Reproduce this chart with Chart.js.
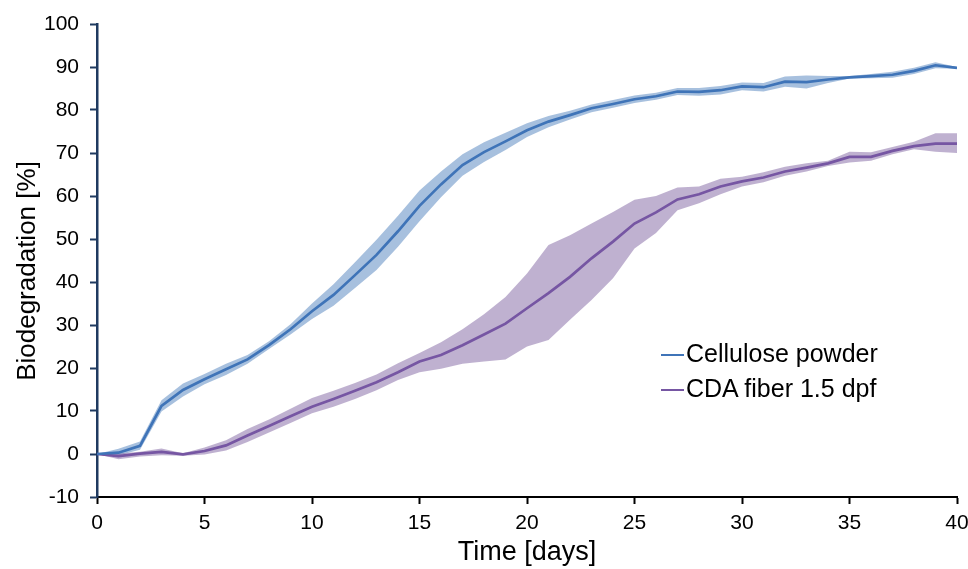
<!DOCTYPE html>
<html>
<head>
<meta charset="utf-8">
<script src="https://cdn.jsdelivr.net/npm/chart.js@4.4.1/dist/chart.umd.min.js"></script>
<style>
  body { margin: 0; background: #fff; }
  #boite { position: relative; width: 968px; height: 569px; }
  #legende { position: absolute; left: 661px; top: 336px; font-family: "Liberation Sans", Arial, sans-serif; font-size: 25px; color: #000; }
  .ligne { height: 35px; line-height: 35px; white-space: nowrap; }
  .trait { display: inline-block; width: 23px; height: 2px; vertical-align: middle; margin-right: 2px; }
</style>
</head>
<body>
<div id="boite">
  <canvas id="monGraphe" width="968" height="569"></canvas>
  <div id="legende"></div>
</div>
<script>
var jours = [0,1,2,3,4,5,6,7,8,9,10,11,12,13,14,15,16,17,18,19,20,21,22,23,24,25,26,27,28,29,30,31,32,33,34,35,36,37,38,39,40];

var cellulose = [0,0.3,1.9,11.2,14.9,17.4,19.7,22.0,25.3,29.0,33.2,37.0,41.6,46.3,51.8,57.7,62.7,67.2,70.2,72.7,75.3,77.3,78.8,80.4,81.4,82.5,83.2,84.3,84.2,84.6,85.5,85.3,86.6,86.5,87.1,87.6,87.9,88.2,89.1,90.4,89.8];
var celluloseHaut = [0,1.2,2.9,12.5,16.4,18.6,21.0,23.0,26.2,30.2,35.0,39.5,44.6,49.8,55.4,61.3,65.7,69.7,72.5,74.7,76.9,78.6,79.8,81.3,82.3,83.4,84.0,85.1,85.1,85.6,86.4,86.3,87.8,88.0,87.9,87.9,88.4,88.9,89.8,91.1,90.0];
var celluloseBas = [0,-0.3,1.0,9.9,13.4,16.2,18.4,21.0,24.4,27.8,31.4,34.5,38.6,42.8,48.2,54.1,59.7,64.7,67.9,70.7,73.7,76.0,77.8,79.5,80.5,81.6,82.4,83.5,83.3,83.6,84.6,84.3,85.4,85.0,86.3,87.3,87.4,87.5,88.4,89.7,89.6];

var cda = [0,-0.5,0.1,0.5,-0.1,0.7,2.0,4.3,6.5,8.8,11.0,12.8,14.7,16.7,19.0,21.5,23.0,25.3,27.8,30.3,33.9,37.4,41.2,45.5,49.4,53.6,56.2,59.2,60.4,62.2,63.4,64.3,65.7,66.6,67.6,69.1,69.1,70.5,71.6,72.2,72.2];
var cdaHaut = [0,0.1,0.5,1.3,0.2,1.5,3.2,5.8,8.0,10.5,13.0,14.7,16.5,18.5,21.1,23.5,26.0,29.0,32.5,36.5,42.0,48.6,50.9,53.6,56.3,59.1,60.0,62.0,62.2,64.0,64.5,65.5,66.8,67.6,68.2,70.3,70.2,71.4,72.6,74.6,74.6];
var cdaBas = [0,-1.2,-0.6,-0.3,-0.4,-0.1,0.8,2.8,5.0,7.2,9.5,11.0,12.8,14.8,17.2,19.0,19.8,21.0,21.5,22.0,25.0,26.5,31.2,35.8,40.9,47.8,51.4,56.7,58.3,60.4,62.2,63.2,64.7,65.7,67.0,67.8,68.2,69.7,70.9,70.3,70.0];

var noms = ["Cellulose powder", "CDA fiber 1.5 dpf"];
var couleurs = ["#3f74b8", "#7656a3"];
var couleursBande = ["rgba(79,129,189,0.5)", "rgba(128,100,162,0.5)"];

var police = "'Liberation Sans', Arial, sans-serif";

function points(valeurs){
  var res = [];
  for (var i = 0; i < jours.length; i++) res.push({x: jours[i], y: valeurs[i]});
  return res;
}

function courbe(label, valeurs, couleur, ordre){
  return {label: label, data: points(valeurs), borderColor: couleur, borderWidth: 2.7,
    pointRadius: 0, fill: false, tension: 0, order: ordre};
}

function bande(valeurs, couleur, remplir, ordre){
  return {label: "", data: points(valeurs), borderWidth: 0, borderColor: "rgba(0,0,0,0)",
    backgroundColor: couleur, pointRadius: 0, fill: remplir, tension: 0, order: ordre};
}

// titre de l'axe y, un peu plus bas que le centre de l'axe comme sur l'original
var titreY = {
  id: "titreY",
  afterDraw: function(c){
    var g = c.ctx;
    g.save();
    g.translate(28, 271);
    g.rotate(-Math.PI / 2);
    g.font = "26px " + police;
    g.fillStyle = "#000";
    g.textAlign = "center";
    g.textBaseline = "middle";
    g.fillText("Biodegradation [%]", 0, 0);
    g.restore();
  }
};

var ctx = document.getElementById("monGraphe");
var chart = new Chart(ctx, {
  type: "line",
  data: {
    datasets: [
      courbe(noms[0], cellulose, couleurs[0], 1),
      courbe(noms[1], cda, couleurs[1], 2),
      bande(celluloseHaut, couleursBande[0], "+1", 4),
      bande(celluloseBas, couleursBande[0], false, 5),
      bande(cdaHaut, couleursBande[1], "+1", 3),
      bande(cdaBas, couleursBande[1], false, 3)
    ]
  },
  options: {
    responsive: false,
    animation: false,
    layout: {padding: {left: 0, right: 11, top: 24, bottom: 0}},
    plugins: {legend: {display: false}, tooltip: {enabled: false}, filler: {drawTime: "beforeDatasetsDraw"}},
    scales: {
      x: {
        type: "linear", min: 0, max: 40,
        ticks: {stepSize: 5, color: "#000", padding: 7, font: {family: police, size: 21}},
        grid: {drawOnChartArea: false, drawTicks: true, tickLength: 7, tickWidth: 2, color: "#000"},
        border: {color: "#000", width: 2},
        title: {display: true, text: "Time [days]", color: "#000", padding: {top: 0, bottom: 0}, font: {family: police, size: 27}},
        afterFit: function(s){ s.height = 72; s.paddingRight = 0; s.paddingLeft = 0; }
      },
      y: {
        min: -10, max: 100,
        ticks: {stepSize: 10, color: "#000", padding: 11, font: {family: police, size: 21}},
        grid: {drawOnChartArea: false, drawTicks: true, tickLength: 7, tickWidth: 2, color: "#1f3a60"},
        border: {color: "#1f3a60", width: 2.5},
        afterFit: function(s){ s.width = 97; s.paddingTop = 0; s.paddingBottom = 0; }
      }
    }
  },
  plugins: [titreY]
});

var leg = document.getElementById("legende");
for (var i = 0; i < noms.length; i++){
  var d = document.createElement("div");
  d.className = "ligne";
  d.innerHTML = '<span class="trait" style="background:' + couleurs[i] + '"></span>' + noms[i];
  leg.appendChild(d);
}
</script>
</body>
</html>
